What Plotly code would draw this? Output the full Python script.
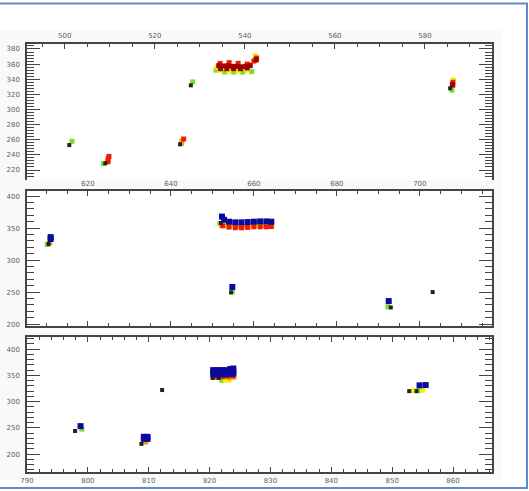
import plotly.graph_objects as go

W, H = 529, 491

# ---------------- data: upper panel (upper x scale) ----------------
top_black_x = [501.0, 509.0, 525.6, 528.0, 585.6]
top_black_y = [253.0, 229.0, 254.0, 332.0, 328.0]
top_green_x = [501.6, 508.6, 525.9, 528.4, 533.6, 535.5, 537.5, 539.5, 541.5, 586.0]
top_green_y = [258.0, 228.5, 255.0, 336.5, 352.0, 349.5, 349.5, 349.5, 350.0, 325.5]
top_yellow_x = [533.8, 534.5, 536.5, 538.5, 540.5, 542.3, 586.3]
top_yellow_y = [356.0, 352.0, 351.0, 351.0, 352.0, 371.0, 339.0]
top_orange_x = [526.0, 534.5, 536.0, 537.5, 541.0, 542.5]
top_orange_y = [258.0, 356.0, 357.0, 356.0, 359.0, 365.0]
top_red_x = [509.6, 509.6, 509.8, 526.4, 534.5, 536.5, 538.5, 540.5, 542.0, 542.6, 586.2, 586.2]
top_red_y = [231.0, 234.5, 238.0, 261.0, 361.0, 362.0, 361.0, 360.0, 364.0, 368.0, 332.0, 336.0]
top_darkred_x = [534.2, 535.2, 536.2, 537.2, 538.2, 539.2, 540.2, 541.2,
                 534.6, 536.0, 537.5, 539.0, 540.5, 542.5, 586.1]
top_darkred_y = [358.0, 357.5, 358.0, 357.0, 357.0, 356.5, 357.0, 358.0,
                 354.0, 354.0, 354.0, 354.0, 355.0, 366.0, 333.0]

# ---------------- data: middle panel ----------------
mid_black_x = [610.5, 652.0, 654.5, 693.0, 703.1]
mid_black_y = [325.0, 358.0, 249.5, 226.0, 250.0]
mid_green_x = [610.2, 651.8, 652.4, 654.8, 692.3]
mid_green_y = [324.5, 357.0, 354.0, 250.5, 227.0]
mid_yellow_x = [652.0, 653.5, 655.0, 657.0, 659.0, 661.0, 663.0, 664.3]
mid_yellow_y = [356.0, 354.5, 354.0, 354.0, 354.0, 354.5, 355.0, 355.0]
mid_orange_x = [610.8, 652.3, 654.0, 656.0, 658.0, 660.0, 662.0, 664.0]
mid_orange_y = [327.0, 354.5, 353.0, 352.5, 352.5, 353.0, 353.5, 353.5]
mid_red_x = [652.5, 654.0, 655.5, 657.0, 658.5, 660.0, 661.5, 663.0, 664.2]
mid_red_y = [353.5, 351.5, 350.5, 350.5, 351.0, 352.0, 352.0, 352.0, 352.5]
mid_blue_x = [611.0, 611.0, 652.3, 652.8, 654.0, 655.5, 657.0, 658.5, 660.0,
              661.5, 663.0, 664.2, 654.8, 692.5]
mid_blue_y = [336.0, 333.0, 368.0, 363.0, 360.0, 359.0, 359.0, 359.5, 360.0,
              360.5, 360.5, 360.0, 258.0, 236.0]

# ---------------- data: lower panel ----------------
bot_black_x = [797.9, 808.8, 812.2, 820.5, 821.5, 852.8, 854.0]
bot_black_y = [244.0, 219.5, 322.0, 345.0, 345.0, 320.0, 320.0]
bot_green_x = [799.0, 822.0, 854.2]
bot_green_y = [247.6, 340.5, 320.5]
bot_yellow_x = [822.6, 823.2, 853.5, 855.0]
bot_yellow_y = [341.0, 341.0, 321.0, 321.5]
bot_orange_x = [809.5, 820.8, 822.0, 823.2, 824.0]
bot_orange_y = [223.0, 346.0, 346.0, 345.5, 346.5]
bot_red_x = [820.6, 821.4, 822.2, 823.0, 823.8]
bot_red_y = [348.5, 348.0, 348.0, 348.5, 349.0]
bot_blue_x = [798.8, 809.2, 809.8, 809.2, 809.8,
              820.6, 821.3, 822.0, 822.7, 823.4, 823.9,
              820.6, 821.3, 822.0, 822.7, 823.4, 823.9,
              820.6, 821.3, 822.0, 822.7, 823.4, 823.9,
              854.5, 855.5]
bot_blue_y = [253.3, 233.0, 233.0, 229.0, 229.0,
              352.0, 352.0, 352.0, 352.0, 353.0, 353.0,
              356.0, 356.0, 356.0, 356.0, 357.5, 357.5,
              360.0, 360.0, 360.0, 360.0, 362.0, 363.0,
              331.0, 331.5]

COLORS = {
    "black": "#222222",
    "green": "#77e02a",
    "yellow": "#f2f200",
    "orange": "#ff9a00",
    "red": "#ee1c00",
    "darkred": "#a00000",
    "blue": "#0a0aa0",
}

fig = go.Figure()


def add(xs, ys, color, xa, ya, size=5):
    fig.add_trace(go.Scatter(
        x=xs, y=ys, mode="markers", xaxis=xa, yaxis=ya,
        marker=dict(symbol="square", size=size, color=COLORS[color],
                    line=dict(width=0)),
        showlegend=False, hoverinfo="x+y"))


# upper panel, plotted against the upper x scale
add(top_green_x, top_green_y, "green", "x2", "y")
add(top_yellow_x, top_yellow_y, "yellow", "x2", "y")
add(top_orange_x, top_orange_y, "orange", "x2", "y")
add(top_red_x, top_red_y, "red", "x2", "y")
add(top_darkred_x, top_darkred_y, "darkred", "x2", "y")
add(top_black_x, top_black_y, "black", "x2", "y", size=4)

# middle panel
add(mid_green_x, mid_green_y, "green", "x3", "y3")
add(mid_yellow_x, mid_yellow_y, "yellow", "x3", "y3")
add(mid_orange_x, mid_orange_y, "orange", "x3", "y3")
add(mid_red_x, mid_red_y, "red", "x3", "y3")
add(mid_black_x, mid_black_y, "black", "x3", "y3", size=4)
add(mid_blue_x, mid_blue_y, "blue", "x3", "y3", size=6)

# lower panel
add(bot_green_x, bot_green_y, "green", "x4", "y4")
add(bot_yellow_x, bot_yellow_y, "yellow", "x4", "y4")
add(bot_orange_x, bot_orange_y, "orange", "x4", "y4")
add(bot_red_x, bot_red_y, "red", "x4", "y4")
add(bot_black_x, bot_black_y, "black", "x4", "y4", size=4)
add(bot_blue_x, bot_blue_y, "blue", "x4", "y4", size=6)

AX = "#454545"
TF = dict(family="DejaVu Sans", size=7, color="#606060")
XDOM = [27 / W, 492 / W]
PANELS_PX = [(44, 180), (191, 326), (337, 472)]


def ydom(top_px, bot_px):
    return [1 - bot_px / H, 1 - top_px / H]


def xax(rng, dtick, tick0, minor_dtick, side="bottom", labels=True, mirror=False,
        anchor="y", overlaying=None, standoff=1):
    d = dict(range=rng, domain=XDOM, anchor=anchor, side=side,
             tick0=tick0, dtick=dtick, ticks="inside", ticklen=5, tickwidth=1,
             tickcolor=AX, showline=True, linecolor=AX, linewidth=1.5,
             showgrid=False, zeroline=False, showticklabels=labels,
             tickfont=TF, ticklabelstandoff=standoff, automargin=False,
             mirror="allticks" if mirror else False,
             minor=dict(dtick=minor_dtick, tick0=tick0, ticks="inside",
                        ticklen=3, tickcolor=AX, showgrid=False))
    if overlaying:
        d["overlaying"] = overlaying
    return d


def yax(rng, dtick, tick0, minor_dtick, dom, anchor):
    return dict(range=rng, domain=dom, anchor=anchor, tick0=tick0, dtick=dtick,
                ticks="inside", ticklen=13, tickwidth=1, tickcolor=AX,
                showline=True, linecolor=AX, linewidth=1.5, mirror="allticks",
                showgrid=False, zeroline=False, tickfont=TF,
                ticklabelstandoff=4, automargin=False,
                minor=dict(dtick=minor_dtick, tick0=tick0, ticks="inside",
                           ticklen=7, tickcolor=AX, showgrid=False))


shapes = [
    # light canvas behind the panels
    dict(type="rect", xref="paper", yref="paper", layer="below",
         x0=0, x1=502 / W, y0=1 - 480 / H, y1=1 - 30 / H,
         fillcolor="#f9f9f9", line=dict(width=0)),
]
for t, b in PANELS_PX:
    shapes.append(dict(type="rect", xref="paper", yref="paper", layer="below",
                       x0=XDOM[0], x1=XDOM[1], y0=1 - b / H, y1=1 - t / H,
                       fillcolor="white", line=dict(width=0)))
# outer frame
shapes.append(dict(type="rect", xref="paper", yref="paper",
                   x0=-0.01, x1=527 / W, y0=1 - 488 / H, y1=1 - 3.5 / H,
                   line=dict(color="#5a8ad0", width=2),
                   fillcolor="rgba(0,0,0,0)"))

fig.update_layout(
    width=W, height=H,
    margin=dict(l=0, r=0, t=0, b=0, pad=0, autoexpand=False),
    paper_bgcolor="white",
    plot_bgcolor="white",
    # upper panel: lower scale (ticks only) and upper scale carrying the data
    xaxis=xax([605.3, 717.4], 20, 600, 5, side="bottom", labels=False,
              anchor="y"),
    xaxis2=xax([491.6, 594.9], 20, 500, 5, side="top", anchor="y",
               overlaying="x"),
    yaxis=yax([206.8, 386.6], 20, 200, 4, ydom(*PANELS_PX[0]), "x"),
    # middle panel: its scale is labelled along its upper edge
    xaxis3=xax([605.3, 717.4], 20, 600, 5, side="top", labels=True,
               mirror=True, anchor="y3", standoff=0),
    yaxis3=yax([197, 408], 50, 200, 10, ydom(*PANELS_PX[1]), "x3"),
    # lower panel
    xaxis4=xax([790, 866.4], 10, 790, 2, labels=True, mirror=True,
               anchor="y4"),
    yaxis4=yax([166, 423], 50, 200, 10, ydom(*PANELS_PX[2]), "x4"),
    shapes=shapes,
)

fig.write_html("out.html")
